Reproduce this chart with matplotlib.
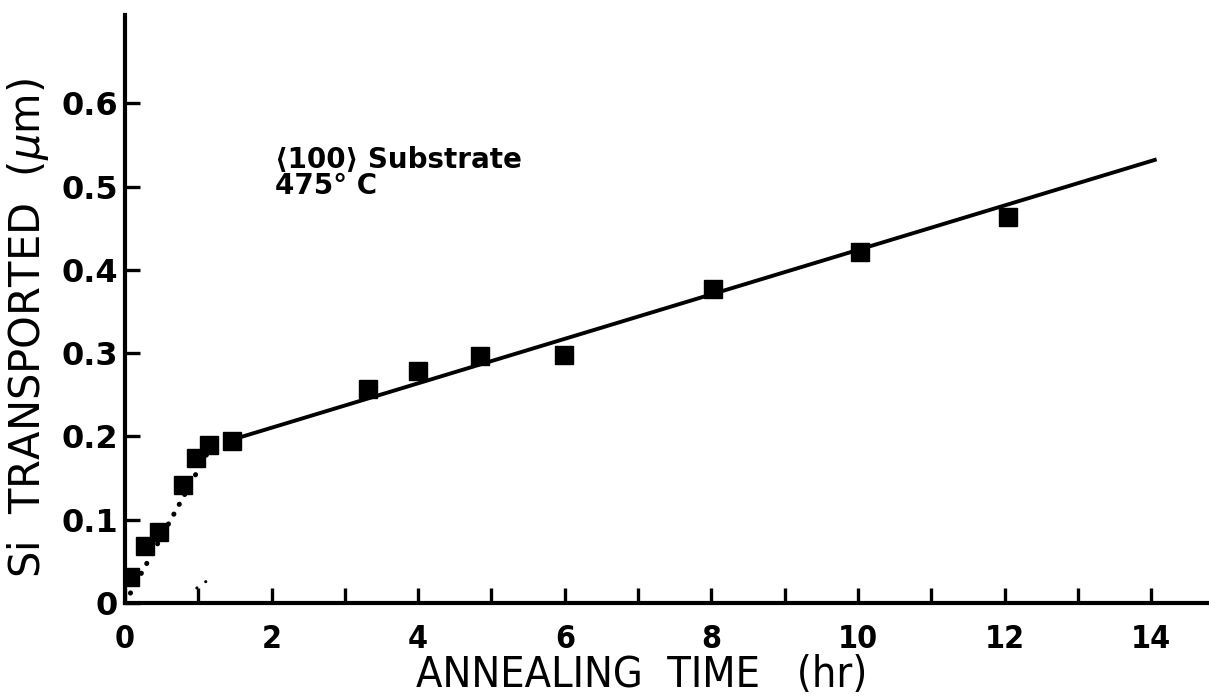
'''
Si transported vs annealing time, <100> substrate at 475 C
'''

import matplotlib
matplotlib.use('Agg')
import matplotlib.pyplot as plt

# Data
time_hr = [0.07, 0.27, 0.46, 0.79, 0.97, 1.15, 1.46, 3.32, 4.0, 4.84, 5.99, 8.02, 10.03, 12.05]
si_um = [0.031, 0.068, 0.085, 0.142, 0.174, 0.190, 0.194, 0.257, 0.279, 0.296, 0.298, 0.377, 0.421, 0.464]

# Straight-line fit (solid) and initial rise (dotted)
fit_x = [1.46, 14.05]
fit_y = [0.196, 0.532]
rise_x = [0.0, 1.2]
rise_y = [0.0, 0.192]
# stray dots near x=1 in the scan
stray_x = [0.98, 1.22]
stray_y = [0.018, 0.033]

x_ticks = list(range(0, 15))
x_labels = ['0', '', '2', '', '4', '', '6', '', '8', '', '10', '', '12', '', '14']
y_ticks = [0, 0.1, 0.2, 0.3, 0.4, 0.5, 0.6]
y_labels = ['0', '0.1', '0.2', '0.3', '0.4', '0.5', '0.6']

plt.rcParams['font.family'] = ['DejaVu Sans']

fig = plt.figure(figsize=(12.09, 7.0), dpi=100)
ax = fig.add_axes([0.1034, 0.1386, 0.8966, 0.84])

ax.plot(fit_x, fit_y, '-', color='black', linewidth=2.8)
ax.plot(rise_x, rise_y, color='black', linewidth=3.6,
        linestyle=(0, (0.05, 2.2)), dash_capstyle='round')
ax.plot(stray_x, stray_y, color='black', linewidth=2.2,
        linestyle=(0, (0.05, 3.5)), dash_capstyle='round')
ax.plot(time_hr, si_um, 's', color='black', markersize=13)

ax.set_xlim(0, 14.79)
ax.set_ylim(0, 0.706)

for side in ['top', 'right']:
    ax.spines[side].set_visible(False)
for side in ['left', 'bottom']:
    ax.spines[side].set_linewidth(3)

ax.set_xticks(x_ticks)
ax.set_xticklabels(x_labels, fontsize=23, fontweight='bold', fontstretch='condensed')
ax.set_yticks(y_ticks)
ax.set_yticklabels(y_labels, fontsize=23, fontweight='bold')
ax.tick_params(direction='in', length=11, width=2.4, pad=5)
ax.tick_params(axis='x', pad=15)

ax.set_xlabel('ANNEALING  TIME   (hr)', fontsize=31, fontstretch='condensed')
ax.xaxis.set_label_coords(0.477, -0.087)
ax.set_ylabel('Si  TRANSPORTED  ($\\mu$m)', fontsize=30)
ax.yaxis.set_label_coords(-0.068, 0.468)

ax.text(2.05, 0.517, '\u27e8100\u27e9 Substrate\n475\u00b0 C', fontsize=20,
        fontweight='bold', linespacing=0.95, va='center', ha='left')

fig.savefig('out.png', dpi=100)
